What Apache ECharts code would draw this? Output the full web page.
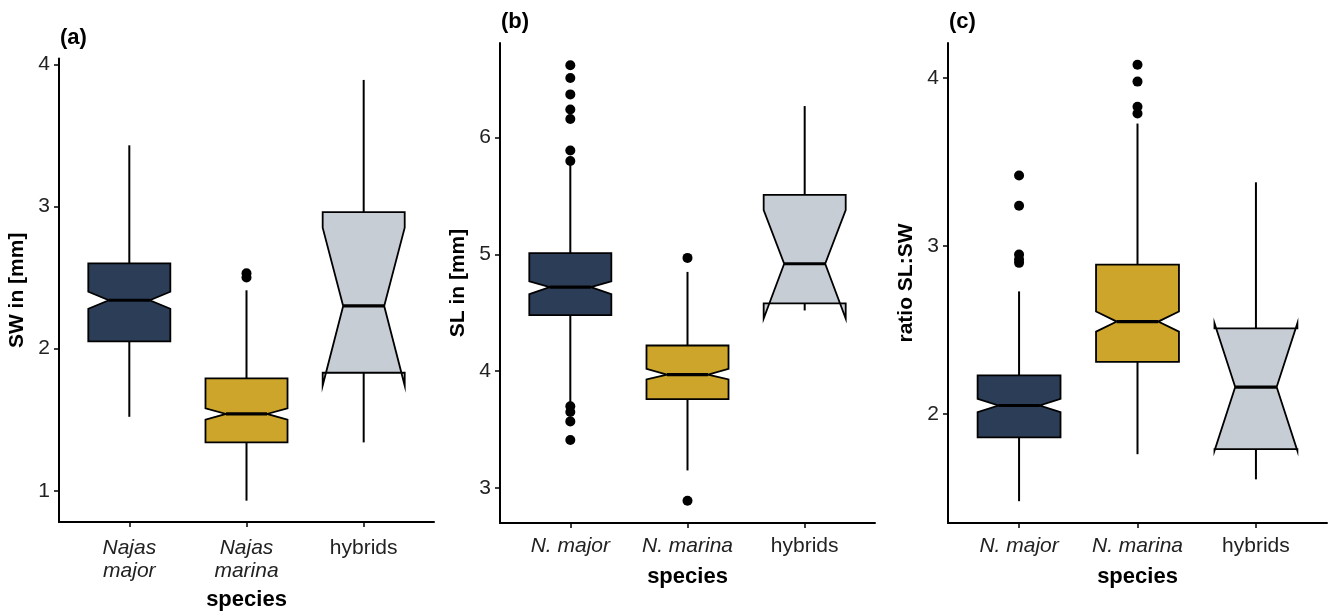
<!DOCTYPE html>
<html>
<head>
<meta charset="utf-8">
<script src="https://cdn.jsdelivr.net/npm/echarts@6/dist/echarts.min.js"></script>
<style>
  html, body { margin: 0; padding: 0; background: #fff; }
  #chart { width: 1329px; height: 612px; }
</style>
</head>
<body>
<div id="chart"></div>
<script>
// each box: [whisker low, Q1, notch low, median, notch high, Q3, whisker high]
const swBoxes = [
  [1.52, 2.05, 2.28, 2.34, 2.40, 2.60, 3.43],
  [0.93, 1.34, 1.50, 1.54, 1.58, 1.79, 2.41],
  [1.34, 1.83, 1.74, 2.30, 2.85, 2.96, 3.89]
];
const swOutliers = [[2, 2.50], [2, 2.53]];

const slBoxes = [
  [3.73, 4.48, 4.66, 4.72, 4.77, 5.01, 5.78],
  [3.15, 3.76, 3.93, 3.97, 4.02, 4.22, 4.85],
  [4.52, 4.58, 4.45, 4.92, 5.38, 5.51, 6.27]
];
const slOutliers = [
  [1, 6.62], [1, 6.51], [1, 6.37], [1, 6.24], [1, 6.16], [1, 5.89], [1, 5.80],
  [1, 3.70], [1, 3.65], [1, 3.57], [1, 3.41],
  [2, 4.97], [2, 2.89]
];

const ratioBoxes = [
  [1.48, 1.86, 2.01, 2.05, 2.09, 2.23, 2.73],
  [1.76, 2.31, 2.49, 2.55, 2.61, 2.89, 3.73],
  [1.61, 1.79, 1.78, 2.16, 2.54, 2.51, 3.38]
];
const ratioOutliers = [
  [1, 3.42], [1, 3.24], [1, 2.95], [1, 2.92], [1, 2.90],
  [2, 4.08], [2, 3.98], [2, 3.83], [2, 3.79]
];

const labelsA = ['{i|Najas}\n{i|major}', '{i|Najas}\n{i|marina}', '{n|hybrids}'];
const labelsBC = ['{i|N. major}', '{i|N. marina}', '{n|hybrids}'];
const ticksA = [1, 2, 3, 4];
const ticksB = [3, 4, 5, 6];
const ticksC = [2, 3, 4];

const colors = ['#2c3e57', '#cca52a', '#c7cdd5'];
const FONT = 'Liberation Sans, Arial, sans-serif';
const BOX_W = 0.7;

function renderBox (params, api) {
  let x = api.value(0);
  let wlo = api.value(1), q1 = api.value(2), nlo = api.value(3), med = api.value(4);
  let nhi = api.value(5), q3 = api.value(6), whi = api.value(7);
  let half = api.size([BOX_W, 0])[0] / 2;
  let cx = api.coord([x, med])[0];
  let y = function (v) { return api.coord([x, v])[1]; };
  let x0 = cx - half, x1 = cx + half, ind = half / 2;
  // ggplot style notch outline
  let pts = [
    [x0, y(q3)], [x0, y(nhi)], [x0 + ind, y(med)], [x0, y(nlo)], [x0, y(q1)],
    [x1, y(q1)], [x1, y(nlo)], [x1 - ind, y(med)], [x1, y(nhi)], [x1, y(q3)]
  ];
  let line = { stroke: '#000', lineWidth: 2 };
  return {
    type: 'group',
    children: [
      { type: 'line', shape: { x1: cx, y1: y(q3), x2: cx, y2: y(whi) }, style: line },
      { type: 'line', shape: { x1: cx, y1: y(q1), x2: cx, y2: y(wlo) }, style: line },
      { type: 'polygon', shape: { points: pts },
        style: { fill: colors[params.dataIndex], stroke: '#000', lineWidth: 1.8, lineJoin: 'miter' } },
      { type: 'line', shape: { x1: x0 + ind, y1: y(med), x2: x1 - ind, y2: y(med) },
        style: { stroke: '#000', lineWidth: 3.2 } }
    ]
  };
}

function xAxisFor (idx, labels, nameGap, margin) {
  return {
    type: 'value', gridIndex: idx, min: 0.4, max: 3.6,
    name: 'species', nameLocation: 'middle', nameGap: nameGap,
    nameTextStyle: { fontFamily: FONT, fontSize: 22, fontWeight: 'bold', color: '#000' },
    splitLine: { show: false },
    axisLine: { lineStyle: { color: '#000', width: 2 } },
    axisTick: { customValues: [1, 2, 3], length: 5, lineStyle: { color: '#000', width: 1.5 } },
    axisLabel: {
      customValues: [1, 2, 3], margin: margin,
      formatter: function (v) { return labels[Math.round(v) - 1]; },
      rich: {
        i: { fontFamily: FONT, fontSize: 21, fontStyle: 'italic', color: '#222', lineHeight: 23 },
        n: { fontFamily: FONT, fontSize: 21, color: '#222', lineHeight: 23 }
      }
    }
  };
}

function yAxisFor (idx, name, min, max, ticks, nameGap) {
  return {
    type: 'value', gridIndex: idx, min: min, max: max,
    name: name, nameLocation: 'middle', nameRotate: 90, nameGap: nameGap,
    nameTextStyle: { fontFamily: FONT, fontSize: 21, fontWeight: 'bold', color: '#000' },
    splitLine: { show: false },
    axisLine: { show: true, lineStyle: { color: '#000', width: 2 } },
    axisTick: { show: true, customValues: ticks, length: 5, lineStyle: { color: '#000', width: 1.5 } },
    axisLabel: { customValues: ticks, margin: 9, fontFamily: FONT, fontSize: 21, color: '#222' }
  };
}

function boxSeries (idx, boxes) {
  return {
    type: 'custom', xAxisIndex: idx, yAxisIndex: idx,
    renderItem: renderBox,
    encode: { x: 0, y: [1, 2, 3, 4, 5, 6, 7] },
    data: boxes.map(function (b, i) { return [i + 1].concat(b); }),
    z: 2
  };
}

function outlierSeries (idx, pts) {
  return {
    type: 'scatter', xAxisIndex: idx, yAxisIndex: idx,
    symbolSize: 10, itemStyle: { color: '#000', opacity: 1 },
    data: pts, z: 3
  };
}

let chart = echarts.init(document.getElementById('chart'));
let panelTitle = { fontFamily: FONT, fontSize: 22, fontWeight: 'bold', color: '#000' };
chart.setOption({
  animation: false,
  title: [
    { text: '(a)', left: 60, top: 27, padding: 0, textStyle: panelTitle },
    { text: '(b)', left: 501, top: 11, padding: 0, textStyle: panelTitle },
    { text: '(c)', left: 949, top: 11, padding: 0, textStyle: panelTitle }
  ],
  grid: [
    { left: 59, right: 895, top: 58.6, bottom: 90, outerBoundsMode: 'none' },
    { left: 500, right: 454, top: 43, bottom: 89, outerBoundsMode: 'none' },
    { left: 948, right: 2, top: 43, bottom: 89, outerBoundsMode: 'none' }
  ],
  xAxis: [
    xAxisFor(0, labelsA, 67, 15),
    xAxisFor(1, labelsBC, 43, 12),
    xAxisFor(2, labelsBC, 43, 12)
  ],
  yAxis: [
    yAxisFor(0, 'SW in [mm]', 0.78, 4.04, ticksA, 31),
    yAxisFor(1, 'SL in [mm]', 2.70, 6.81, ticksB, 31),
    yAxisFor(2, 'ratio SL:SW', 1.35, 4.21, ticksC, 31)
  ],
  series: [
    boxSeries(0, swBoxes), outlierSeries(0, swOutliers),
    boxSeries(1, slBoxes), outlierSeries(1, slOutliers),
    boxSeries(2, ratioBoxes), outlierSeries(2, ratioOutliers)
  ]
});
</script>
</body>
</html>
